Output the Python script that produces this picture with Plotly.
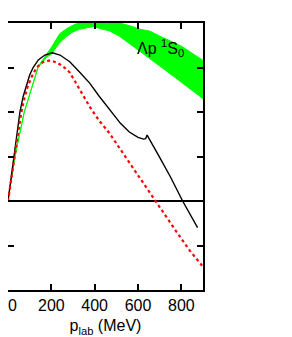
import plotly.graph_objects as go

# Green band (uncertainty band)
band_x = [0, 32, 75, 139, 178, 200, 239, 270, 300, 331, 392, 469, 515, 575, 607, 653, 699, 800, 900]
band_lo = [0, 10, 20, 30, 32.3, 33.0, 35.6, 37.0, 38.0, 38.6, 39.2, 38.2, 37.0, 34.9, 33.6, 32.0, 30.4, 26.7, 23.0]
band_hi = [0, 10, 20, 30.2, 33.0, 34.5, 37.6, 38.7, 39.5, 40.1, 40.5, 40.2, 40.0, 39.2, 38.6, 38.2, 37.1, 34.8, 31.6]

# Black solid curve
black_x = [0, 14, 28, 42, 55, 70, 85, 100, 116, 140, 170, 205, 240, 285, 330, 377, 420, 469,
           520, 560, 600, 625, 635, 642, 660, 700, 750, 806, 875]
black_y = [0, 5.2, 10, 15.2, 20, 23.5, 26.2, 28.3, 30, 31.7, 32.8, 33.3, 32.8, 31.3, 29, 26.5, 23.6, 20.6,
           17.4, 15.5, 14.3, 13.9, 14.0, 14.8, 13.3, 9.8, 5.4, 0, -6]

# Red dotted curve
red_x = [0, 15, 32, 46, 60, 75, 90, 110, 132, 160, 195, 230, 260, 285, 330, 377, 420, 469,
         520, 576, 630, 679, 730, 783, 840, 900]
red_y = [0, 5, 10, 15, 19.5, 23, 25.6, 28, 30, 31.2, 31.6, 31.0, 30.0, 28.9, 25.0, 21.2, 18.1, 15.2,
         11.5, 7.5, 3.8, 0, -3.6, -7.3, -11.2, -14.8]

x_ticks = [0, 200, 400, 600, 800]
x_labels = ["\u00a0\u00a00", "200", "400", "600", "800"]
y_ticks = [-20, -10, 0, 10, 20, 30, 40]

FONT = "Liberation Sans, Arial, Helvetica"

fig = go.Figure()
fig.add_trace(go.Scatter(
    x=band_x + band_x[::-1], y=band_lo + band_hi[::-1],
    fill="toself", fillcolor="#00ff00", line=dict(color="#00ff00", width=1),
    mode="lines", hoverinfo="skip", showlegend=False))
fig.add_trace(go.Scatter(x=black_x, y=black_y, mode="lines",
                         line=dict(color="black", width=1.4), showlegend=False))
fig.add_trace(go.Scatter(x=red_x, y=red_y, mode="lines",
                         line=dict(color="red", width=2.2, dash="dot"), showlegend=False))

fig.add_annotation(x=584, y=34.3, xref="x", yref="y", text="Λp <sup>1</sup>S<sub>0</sub>",
                   showarrow=False, xanchor="left", yanchor="middle",
                   font=dict(family=FONT, size=16, color="black"))

axis_common = dict(showline=True, linecolor="black", linewidth=1.8, mirror="ticks",
                   ticks="inside", ticklen=6, tickwidth=1.5, tickcolor="black",
                   showgrid=False, automargin=False)

fig.update_xaxes(range=[0, 900], tickvals=x_ticks, ticktext=x_labels,
                 zeroline=False, ticklabeloverflow="allow",
                 title=dict(text="p<sub>lab</sub> (MeV)", standoff=7,
                            font=dict(family=FONT, size=16, color="black")),
                 tickfont=dict(family=FONT, size=16, color="black"),
                 **axis_common)
fig.update_yaxes(range=[-20, 40], tickvals=y_ticks, showticklabels=False,
                 zeroline=True, zerolinecolor="black", zerolinewidth=1.5,
                 **axis_common)

# page body adds an 8px offset; plot area spans 195 x 267 px
fig.update_layout(width=292, height=337, margin=dict(l=0, r=97, t=15, b=55),
                  plot_bgcolor="white", paper_bgcolor="white")

fig.write_html("out.html")
